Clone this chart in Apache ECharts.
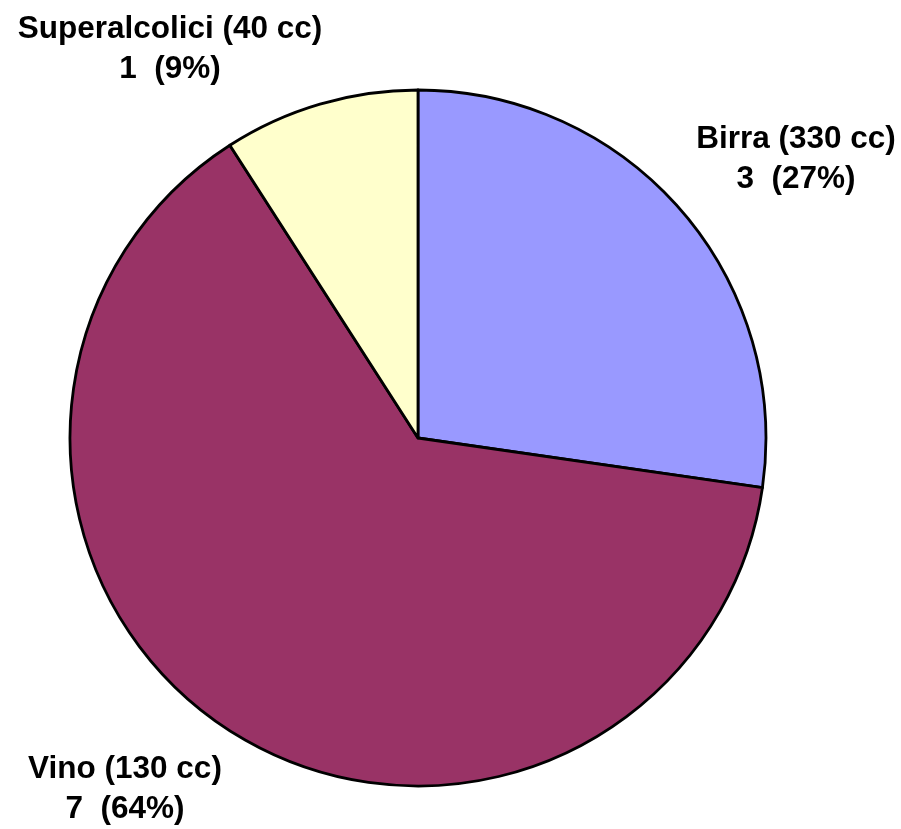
<!DOCTYPE html>
<html>
<head>
<meta charset="utf-8">
<script src="https://cdn.jsdelivr.net/npm/echarts@6/dist/echarts.min.js"></script>
<style>
  html, body { margin: 0; padding: 0; background: #fff; }
  #chart { width: 901px; height: 829px; }
</style>
</head>
<body>
<div id="chart"></div>
<script>
const names = ["Birra (330 cc)", "Vino (130 cc)", "Superalcolici (40 cc)"];
const values = [3, 7, 1];
const colors = ["#9999FF", "#993366", "#FFFFCC"];
// label anchor points (centre of each two-line label)
const labelPos = [[796, 159], [125, 789], [170, 49]];

const chart = echarts.init(document.getElementById("chart"));

chart.setOption({
  backgroundColor: "#ffffff",
  animation: false,
  series: [{
    type: "pie",
    center: [418, 438],
    radius: 348,
    startAngle: 90,
    clockwise: true,
    percentPrecision: 0,
    data: names.map((n, i) => ({ name: n, value: values[i], itemStyle: { color: colors[i] } })),
    itemStyle: { borderColor: "#000", borderWidth: 2.8 },
    label: {
      show: true,
      position: "outside",
      formatter: "{b}\n{c}  ({d}%)",
      fontFamily: "Liberation Sans, Arial, sans-serif",
      fontWeight: "bold",
      fontSize: 31.5,
      lineHeight: 40,
      color: "#000",
      align: "center",
      overflow: "none",
      width: 400
    },
    labelLine: { show: false },
    labelLayout: (p) => ({
      x: labelPos[p.dataIndex][0],
      y: labelPos[p.dataIndex][1],
      align: "center",
      verticalAlign: "middle"
    }),
    emphasis: { disabled: true }
  }]
});
</script>
</body>
</html>
